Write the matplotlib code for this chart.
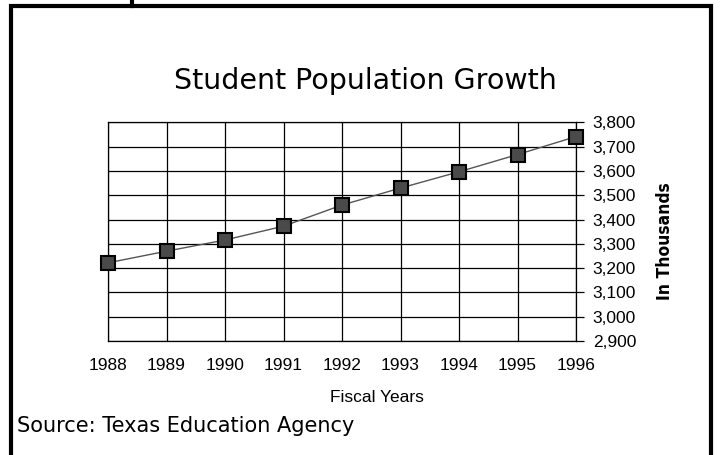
import matplotlib
matplotlib.use('Agg')
import matplotlib.pyplot as plt
from matplotlib.patches import Rectangle
from matplotlib.ticker import FuncFormatter, MultipleLocator

# data
years = [1988, 1989, 1990, 1991, 1992, 1993, 1994, 1995, 1996]
students = [3222, 3270, 3316, 3373, 3460, 3530, 3597, 3668, 3742]

W, H = 720, 455
fig = plt.figure(figsize=(W / 100, H / 100), dpi=100)

# frame around the whole chart
fig.patches.append(Rectangle((11 / W, -0.1), 700 / W, 1.1 - 6 / H, transform=fig.transFigure,
                             fill=False, edgecolor='black', linewidth=3.0))
fig.add_artist(plt.Line2D([132 / W, 132 / W], [1 - 6 / H, 1.0], transform=fig.transFigure,
                          color='black', linewidth=3.0))

ax = fig.add_axes([108 / W, 1 - 341 / H, 468 / W, 218.5 / H])
ax.plot(years, students, color='#555555', linewidth=1.0, marker='s', markersize=10,
        markerfacecolor='#4a4a4a', markeredgecolor='black', markeredgewidth=1.5,
        zorder=3, clip_on=False)

ax.set_xlim(1988, 1996)
ax.set_ylim(2900, 3800)
ax.set_xticks(years)
ax.yaxis.set_major_locator(MultipleLocator(100))
ax.yaxis.set_major_formatter(FuncFormatter(lambda v, p: '{:,.0f}'.format(v)))
ax.yaxis.tick_right()
ax.grid(True, color='black', linewidth=0.9)
for s in ax.spines.values():
    s.set_color('black')
    s.set_linewidth(0.9)

tick_font = dict(family='Liberation Sans', size=12.5)
ax.tick_params(axis='y', length=6, width=0.9, pad=6)
ax.tick_params(axis='x', length=0, pad=12)
for lab in ax.get_xticklabels() + ax.get_yticklabels():
    lab.set_fontfamily('Liberation Sans')
    lab.set_fontsize(12.5)

fig.text(365 / W, 1 - 81 / H, 'Student Population Growth', ha='center', va='center',
         family='DejaVu Sans', fontsize=20.5)
fig.text(377 / W, 1 - 398 / H, 'Fiscal Years', ha='center', va='center', **tick_font)
fig.text(665 / W, 1 - 241 / H, 'In Thousands', ha='center', va='center', rotation=90,
         family='DejaVu Sans', fontweight='bold', fontstretch='condensed', fontsize=12.5)
fig.text(17 / W, 1 - 426 / H, 'Source: Texas Education Agency', ha='left', va='center',
         family='DejaVu Sans', fontsize=15)

fig.savefig('out.png', dpi=100)
